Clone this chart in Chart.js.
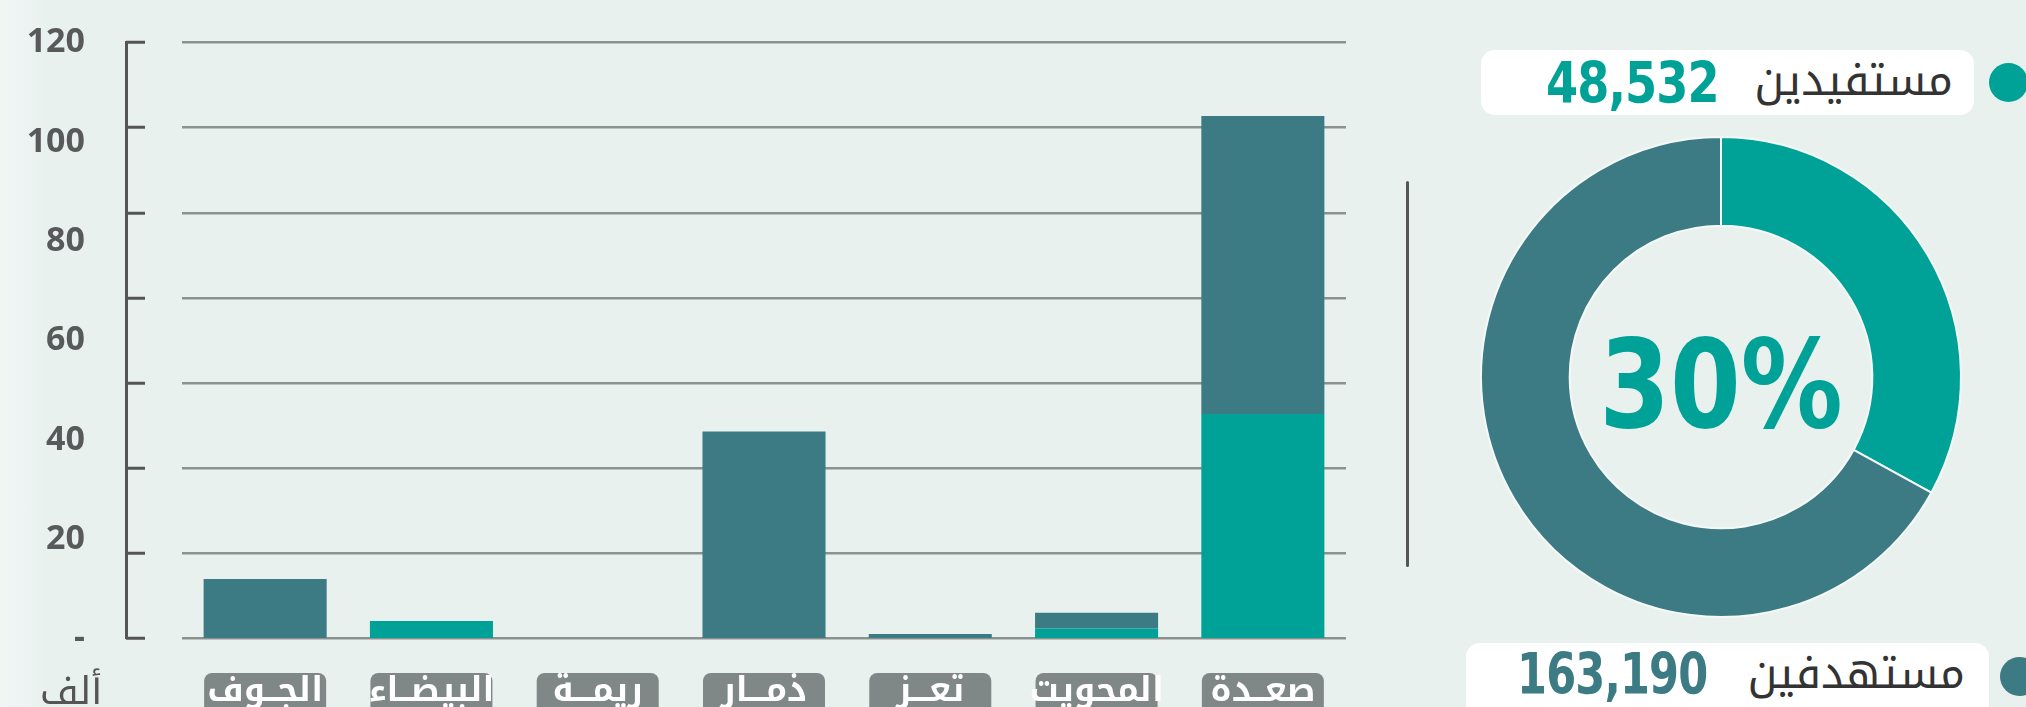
<!DOCTYPE html>
<html lang="ar">
<head>
<meta charset="utf-8">
<script src="https://cdn.jsdelivr.net/npm/chart.js@4.4.1/dist/chart.umd.min.js"></script>
<style>
  html, body { margin: 0; padding: 0; }
  body { width: 2026px; height: 707px; overflow: hidden; }
  #wrap {
    position: relative; width: 2026px; height: 707px; overflow: hidden;
    background: linear-gradient(90deg, #f1f6f5 0px, #e9f1ef 45px, #e9f1ef 100%);
  }
  #bars { position: absolute; left: 0; top: 0; }
  #donut { position: absolute; left: 1471px; top: 127px; }
  .ar { font-family: 'Noto Kufi Arabic', 'Noto Sans Arabic', 'DejaVu Sans', sans-serif; }
  .unit { position: absolute; left: 40px; top: 669px; font-size: 38px; color: #555; line-height: 1.2; }
  .sep { position: absolute; left: 1406px; top: 181px; width: 3px; height: 386px; background: #555; border-radius: 2px; }
  .pct {
    position: absolute; left: 1471px; width: 500px; top: 323px; text-align: center;
    font-family: 'DejaVu Sans Condensed', 'DejaVu Sans', sans-serif; font-stretch: condensed;
    font-weight: bold; font-size: 123px; line-height: 1; color: #00a297;
    transform: scaleX(0.92);
  }
  .pill { position: absolute; background: #fff; border-radius: 14px; }
  .num {
    position: absolute; font-family: 'DejaVu Sans Condensed', 'DejaVu Sans', sans-serif;
    font-stretch: condensed; font-weight: bold; font-size: 57px; line-height: 1;
    letter-spacing: -1px; transform-origin: left center;
  }
  .lbl { position: absolute; font-size: 44px; color: #333; direction: rtl; line-height: 1.2; white-space: nowrap; }
  .dot { position: absolute; width: 39px; height: 39px; border-radius: 50%; }
</style>
</head>
<body>
<div id="wrap">
  <canvas id="bars" width="1400" height="707"></canvas>
  <div class="unit ar">ألف</div>
  <div class="sep"></div>
  <canvas id="donut" width="500" height="500"></canvas>
  <div class="pct">30%</div>

  <div class="pill" style="left:1481px; top:50px; width:493px; height:65px;"></div>
  <div class="num" style="left:1546px; top:55px; color:#00a297; transform:scaleX(0.9);">48,532</div>
  <div class="lbl ar" style="right:73px; top:55px;">مستفيدين</div>
  <div class="dot" style="left:1989px; top:63px; background:#00a297;"></div>

  <div class="pill" style="left:1466px; top:643px; width:523px; height:90px;"></div>
  <div class="num" style="left:1517px; top:646px; color:#3c7b83; transform:scaleX(0.84);">163,190</div>
  <div class="lbl ar" style="right:61px; top:648px;">مستهدفين</div>
  <div class="dot" style="left:2000px; top:657px; background:#3c7b83;"></div>
</div>

<script>
// المحافظات (من اليسار إلى اليمين كما في الرسم)
const governorates = ['الجــوف', 'البيضــاء', 'ريمـــة', 'ذمـــار', 'تعـــز', 'المحويت', 'صعــدة'];

// القيم بالألف
const targeted = [12.0, 3.5, 0, 41.7, 0.9, 5.2, 105.2];
const beneficiaries = [0, 3.5, 0, 0, 0, 2.0, 45.2];

// محور القيم
const yTicksMin = 0;
const yTicksMax = 120;
const yTicksStep = 20;

// نسبة الحلقة كما تظهر في الرسم
const donutLabels = ['مستفيدين', 'مستهدفين'];
const donutShares = [33, 67];

const TEAL = '#00a297';
const DARK = '#3c7b83';

const remaining = targeted.map((t, i) => Math.max(t - beneficiaries[i], 0));

const arabicFont = "'Noto Kufi Arabic', 'Noto Sans Arabic', 'DejaVu Sans', sans-serif";

// صناديق رمادية خلف أسماء المحافظات
const labelBoxes = {
  id: 'labelBoxes',
  beforeDraw(chart) {
    const xs = chart.scales.x;
    const ctx = chart.ctx;
    ctx.save();
    ctx.fillStyle = '#7f8886';
    xs.ticks.forEach((t, i) => {
      const cx = xs.getPixelForTick(i);
      ctx.beginPath();
      ctx.roundRect(cx - 61, xs.top + 34.5, 122, 60, 8);
      ctx.fill();
    });
    ctx.restore();
  }
};

new Chart(document.getElementById('bars'), {
  type: 'bar',
  data: {
    labels: governorates,
    datasets: [
      { label: 'مستفيدين', data: beneficiaries, backgroundColor: TEAL, stack: 's' },
      { label: 'مستهدفين', data: remaining, backgroundColor: DARK, stack: 's' }
    ]
  },
  options: {
    responsive: false,
    animation: false,
    layout: { padding: { top: 42.5, right: 54, bottom: 0, left: 0 } },
    datasets: { bar: { categoryPercentage: 1, barPercentage: 0.74, borderWidth: 0 } },
    plugins: { legend: { display: false }, tooltip: { enabled: false } },
    scales: {
      x: {
        stacked: true,
        grid: { display: false, drawTicks: false },
        border: { display: false },
        ticks: {
          color: '#ffffff',
          padding: 36,
          font: { family: arabicFont, size: 34, weight: 'bold' }
        },
        afterFit(scale) { scale.height = 68.5; }
      },
      y: {
        position: 'left',
        weight: 1,
        stacked: true,
        min: yTicksMin,
        max: yTicksMax,
        ticks: {
          stepSize: yTicksStep,
          padding: 0,
          color: '#58595b',
          font: { family: "'Open Sans', sans-serif", size: 34, weight: 'bold' },
          callback: (v) => v === 0 ? '-' : v
        },
        grid: { display: true, drawOnChartArea: false, drawTicks: true, tickLength: 41, tickColor: 'rgba(0,0,0,0)' },
        border: { display: true, color: '#555555', width: 3 },
        afterFit(scale) { scale.width = 126; }
      },
      yGrid: {
        position: 'left',
        weight: 0,
        min: 0,
        max: 7,
        ticks: { display: false, stepSize: 1 },
        grid: {
          color: '#8b9391',
          lineWidth: 2.5,
          drawTicks: true,
          tickLength: 56,
          tickColor: '#555555',
          tickWidth: 3,
          tickBorderDash: [19, 200]
        },
        border: { display: false },
        afterFit(scale) { scale.width = 56; }
      }
    }
  },
  plugins: [labelBoxes]
});

new Chart(document.getElementById('donut'), {
  type: 'doughnut',
  data: {
    labels: donutLabels,
    datasets: [{
      data: donutShares,
      backgroundColor: [TEAL, DARK],
      borderColor: '#f4f9f8',
      borderWidth: 2
    }]
  },
  options: {
    responsive: false,
    animation: false,
    radius: 240,
    cutout: 157,
    plugins: { legend: { display: false }, tooltip: { enabled: false } }
  }
});
</script>
</body>
</html>
